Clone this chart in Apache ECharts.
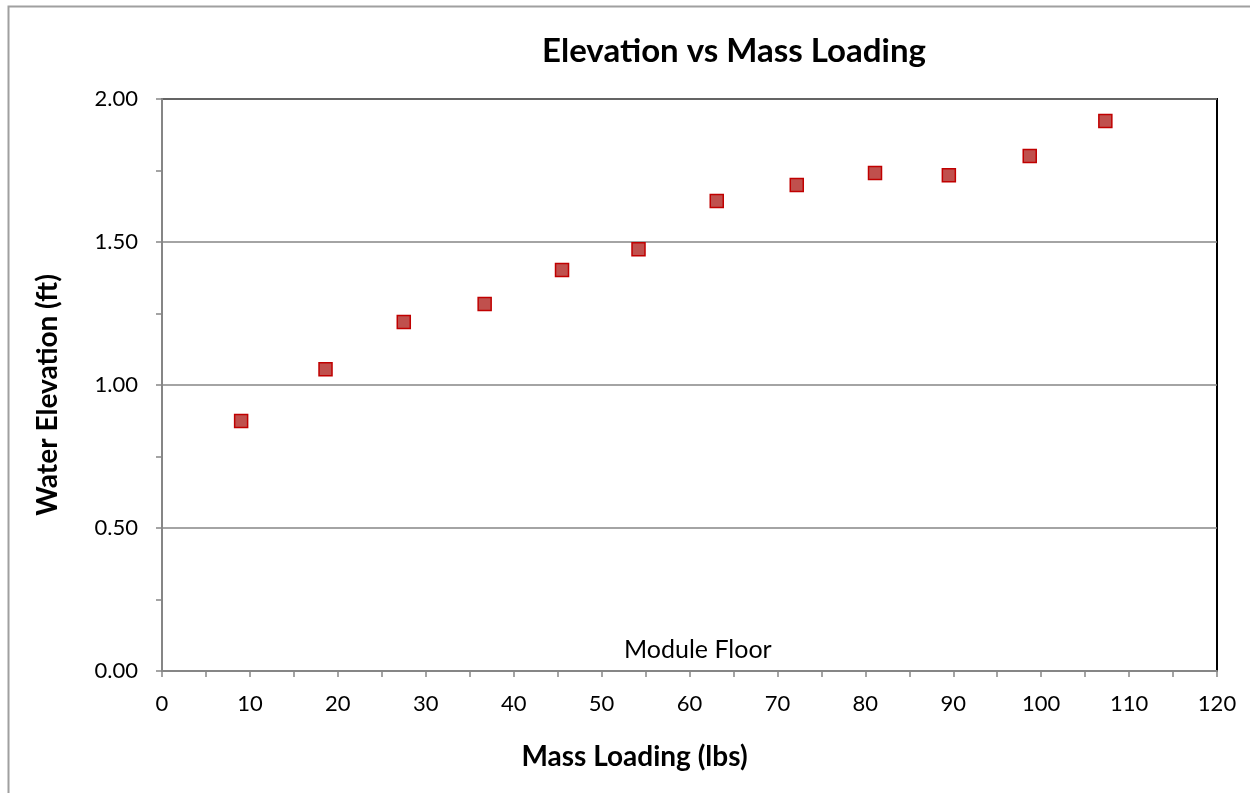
<!DOCTYPE html>
<html>
<head>
<meta charset="utf-8">
<script src="https://cdn.jsdelivr.net/npm/echarts@6/dist/echarts.min.js"></script>
<style>html,body{margin:0;padding:0;background:#fff}#c{width:1250px;height:793px}</style>
</head>
<body>
<div id="c"></div>
<script>
var massLoading = [9.0, 18.6, 27.5, 36.7, 45.5, 54.2, 63.1, 72.2, 81.1, 89.5, 98.7, 107.3];
var waterElevation = [0.874, 1.055, 1.220, 1.283, 1.402, 1.475, 1.643, 1.699, 1.741, 1.733, 1.801, 1.923];
var titleText = 'Elevation vs Mass Loading';
var xAxisName = 'Mass Loading (lbs)';
var yAxisName = 'Water Elevation (ft)';
var annotation = 'Module Floor';

var FONT = 'Lato';
var chart = echarts.init(document.getElementById('c'));
chart.setOption({
  animation: false,
  backgroundColor: '#fff',
  title: {
    text: titleText, left: 729, top: 30, textAlign: 'center',
    textStyle: {fontFamily: FONT, fontWeight: 'bold', fontSize: 33, color: '#000'}
  },
  grid: {left: 162, right: 33, top: 99, bottom: 122, show: true, borderColor: '#000', borderWidth: 2, backgroundColor: 'transparent'},
  xAxis: {
    type: 'value', min: 0, max: 120, interval: 10,
    name: xAxisName, nameLocation: 'middle', nameGap: 72,
    nameTextStyle: {fontFamily: FONT, fontWeight: 'bold', fontSize: 28, color: '#000', padding: [0, 110, 0, 0]},
    axisLine: {show: true, lineStyle: {color: '#868686', width: 2}},
    axisTick: {show: true, inside: false, length: 6, lineStyle: {color: '#868686', width: 1.5}},
    minorTick: {show: true, splitNumber: 2, length: 6, lineStyle: {color: '#868686', width: 1.5}},
    axisLabel: {fontFamily: FONT, fontSize: 22, color: '#000', margin: 22},
    splitLine: {show: false}
  },
  yAxis: {
    type: 'value', min: 0, max: 2, interval: 0.5,
    name: yAxisName, nameLocation: 'middle', nameGap: 100, nameRotate: 90,
    nameTextStyle: {fontFamily: FONT, fontWeight: 'bold', fontSize: 28, color: '#000', padding: [0, 20, 0, 0]},
    axisLine: {show: true, lineStyle: {color: '#868686', width: 2}},
    axisTick: {show: true, inside: false, length: 6, lineStyle: {color: '#868686', width: 1.5}},
    minorTick: {show: true, splitNumber: 2, length: 6, lineStyle: {color: '#868686', width: 1.5}},
    axisLabel: {fontFamily: FONT, fontSize: 22, color: '#000', margin: 24, formatter: function(v){return v.toFixed(2);}},
    splitLine: {show: true, lineStyle: {color: '#868686', width: 1.5}}
  },
  graphic: [
    {type: 'rect', left: 6, top: 4, shape: {width: 1400, height: 1000}, style: {fill: 'none', stroke: '#a0a0a0', lineWidth: 2}, silent: true, z: -1},
    {type: 'text', left: 624, top: 637, style: {text: annotation, fontFamily: FONT, fontSize: 25, fill: '#000'}}
  ],
  series: [{
    type: 'scatter',
    data: massLoading.map(function(x, i){return [x, waterElevation[i]];}),
    symbol: 'rect', symbolSize: 13,
    itemStyle: {color: '#C0504D', borderColor: '#C00000', borderWidth: 1.5, opacity: 1}
  }]
});
</script>
</body>
</html>
